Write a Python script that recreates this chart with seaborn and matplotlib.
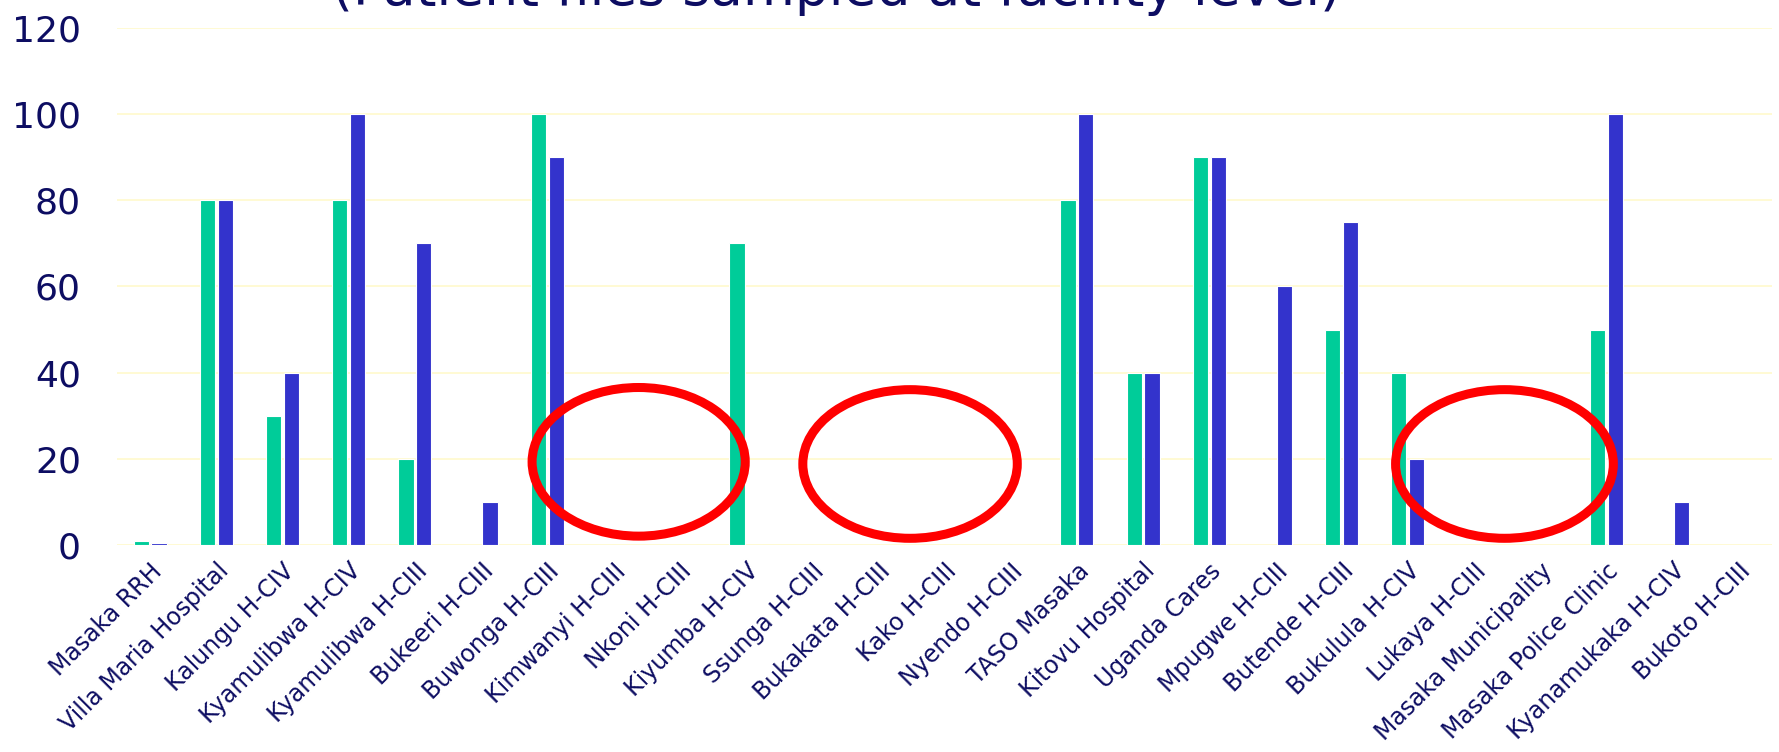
import matplotlib
matplotlib.use("Agg")
import matplotlib.pyplot as plt
from matplotlib.patches import Ellipse
import seaborn as sns
import pandas as pd

facilities = ["Masaka RRH", "Villa Maria Hospital", "Kalungu H-CIV", "Kyamulibwa H-CIV",
              "Kyamulibwa H-CIII", "Bukeeri H-CIII", "Buwonga H-CIII", "Kimwanyi H-CIII",
              "Nkoni H-CIII", "Kiyumba H-CIV", "Ssunga H-CIII", "Bukakata H-CIII",
              "Kako H-CIII", "Nyendo H-CIII", "TASO Masaka", "Kitovu Hospital",
              "Uganda Cares", "Mpugwe H-CIII", "Butende H-CIII", "Bukulula H-CIV",
              "Lukaya H-CIII", "Masaka Municipality", "Masaka Police Clinic",
              "Kyanamukaka H-CIV", "Bukoto H-CIII"]
series_names = ["Series 1", "Series 2"]
series1 = [1, 80, 30, 80, 20, 0, 100, 0, 0, 70, 0, 0, 0, 0, 80, 40, 90, 0, 50, 40, 0, 0, 50, 0, 0]
series2 = [0.5, 80, 40, 100, 70, 10, 90, 0, 0, 0, 0, 0, 0, 0, 100, 40, 90, 60, 75, 20, 0, 0, 100, 10, 0]
yticks = [0, 20, 40, 60, 80, 100, 120]
title = "(Patient files sampled at facility level)"

# annotation circles (category-position center, value center, width, height)
circle_x = [7.38, 11.48, 20.46]
circle_y = [19.3, 18.8, 18.8]
circle_w = [3.22, 3.24, 3.29]
circle_h = [34.5, 34.5, 34.5]

colors = ["#00CC99", "#3333CC"]
navy = "#0D0D62"

df = pd.DataFrame({
    "facility": facilities * 2,
    "series": [series_names[0]] * len(facilities) + [series_names[1]] * len(facilities),
    "value": series1 + series2,
})

sns.set_theme(style="white")
plt.rcParams['font.family'] = ['DejaVu Sans']

fig = plt.figure(figsize=(17.79, 7.52), dpi=100)
ax = fig.add_axes([0.0658, 0.2753, 0.9302, 0.6875])

sns.barplot(data=df, x="facility", y="value", hue="series", hue_order=series_names,
            order=facilities, palette=colors, width=0.54, gap=0.15, ax=ax,
            edgecolor="white", linewidth=0.8, saturation=1, legend=False)

ax.set_xlim(-0.5, len(facilities) - 0.5)
ax.set_ylim(0, 120)
ax.set_yticks(yticks)
ax.set_yticklabels([str(v) for v in yticks], fontsize=26, color=navy)
ax.yaxis.grid(True, color="#FFFAD0", linewidth=1.3)
ax.set_axisbelow(True)
for s in ax.spines.values():
    s.set_visible(False)
ax.tick_params(axis="both", length=0)
ax.tick_params(axis="y", pad=26)
ax.set_xlabel("")
ax.set_ylabel("")
ax.set_xticks(range(len(facilities)))
ax.set_xticklabels(facilities, rotation=45, ha="right", va="top",
                   rotation_mode="anchor", fontsize=17, color=navy)
ax.tick_params(axis="x", pad=10)

for cx, cy, w, h in zip(circle_x, circle_y, circle_w, circle_h):
    ax.add_patch(Ellipse((cx, cy), w, h, facecolor="none", edgecolor="#FF0000",
                         linewidth=6.5, zorder=5, clip_on=False))

fig.text(0.47, 0.993, title, ha="center", va="baseline", fontsize=38.5, color=navy)

fig.savefig("out.png", dpi=100)
